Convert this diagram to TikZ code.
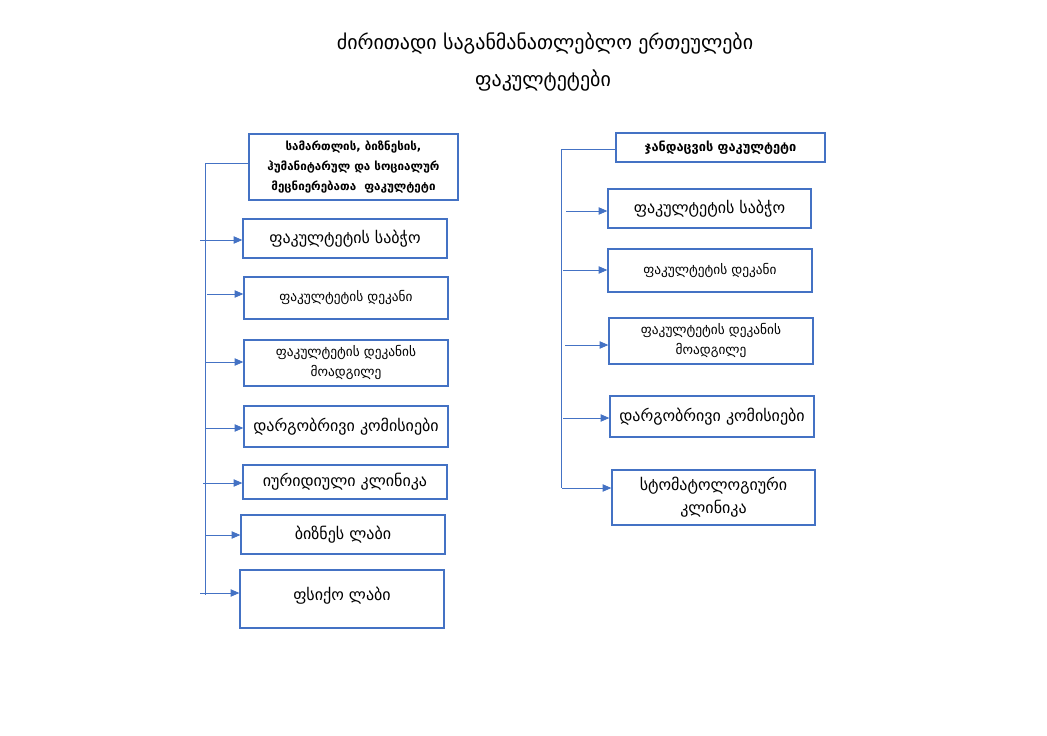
\documentclass[tikz,border=0pt]{standalone}
\usepackage{fontspec}
\setmainfont{DejaVu Sans}
\usetikzlibrary{arrows.meta}
\definecolor{bblue}{HTML}{4472C4}
\begin{document}
\begin{tikzpicture}[x=0.75pt,y=-0.75pt,
  box/.style={draw=bblue,line width=1pt,inner sep=0pt,align=center,font=\fontsize{12}{17.5}\selectfont},
  sbox/.style={box,font=\fontsize{10}{15}\selectfont},
  hbox/.style={box,font=\bfseries\fontsize{8.7}{15}\selectfont},
  conn/.style={draw=bblue,line width=0.6pt},
  arr/.style={conn,-{Triangle[length=6.5pt,width=5.5pt]}},
  ttl/.style={inner sep=0pt,font=\fontsize{15}{18}\selectfont}]
\useasboundingbox (0,0) rectangle (1047,736);
\node[ttl] (t1) at (545,43) {ძირითადი საგანმანათლებლო ერთეულები};
\node[ttl] (t2) at (543,80) {ფაკულტეტები};
% left column
\node[hbox,minimum width=209*0.75pt,minimum height=66*0.75pt] (lh) at (353.5,167) {სამართლის, ბიზნესის,\\ჰუმანიტარულ და სოციალურ\\მეცნიერებათა\ \ ფაკულტეტი};
\node[box,minimum width=204*0.75pt,minimum height=39*0.75pt] (l1) at (345,238.5) {ფაკულტეტის საბჭო};
\node[sbox,minimum width=204*0.75pt,minimum height=42*0.75pt] (l2) at (346,298) {ფაკულტეტის დეკანი};
\node[sbox,minimum width=204*0.75pt,minimum height=46*0.75pt] (l3) at (346,363) {ფაკულტეტის დეკანის\\მოადგილე};
\node[box,minimum width=204*0.75pt,minimum height=41*0.75pt] (l4) at (346,426.5) {დარგობრივი კომისიები};
\node[box,minimum width=204*0.75pt,minimum height=34*0.75pt] (l5) at (345,482) {იურიდიული კლინიკა};
\node[box,minimum width=204*0.75pt,minimum height=39*0.75pt] (l6) at (343,534.5) {ბიზნეს ლაბი};
\node[box,minimum width=204*0.75pt,minimum height=58*0.75pt,text depth=8pt] (l7) at (342,599) {ფსიქო ლაბი};
\coordinate (lc) at (205,163);
\coordinate (lb) at (205,595);
\draw[conn] (lh.west |- lc) -- (lc) -- (lb);
\coordinate (a1) at (200,240);
\coordinate (a2) at (207,294);
\coordinate (a3) at (205,362);
\coordinate (a4) at (205,428);
\coordinate (a5) at (203,483);
\coordinate (a6) at (205,535);
\coordinate (a7) at (200,593);
\foreach \i in {1,...,7}{\draw[arr] (a\i) -- (a\i -| l\i.west);}
% right column
\node[hbox,font=\bfseries\fontsize{9.6}{15}\selectfont,minimum width=209*0.75pt,minimum height=29*0.75pt] (rh) at (720.5,147.5) {ჯანდაცვის ფაკულტეტი};
\node[box,minimum width=203*0.75pt,minimum height=39*0.75pt] (r1) at (709.5,208.5) {ფაკულტეტის საბჭო};
\node[sbox,minimum width=204*0.75pt,minimum height=43*0.75pt] (r2) at (710,270.5) {ფაკულტეტის დეკანი};
\node[sbox,minimum width=204*0.75pt,minimum height=46*0.75pt] (r3) at (711,341) {ფაკულტეტის დეკანის\\მოადგილე};
\node[box,minimum width=204*0.75pt,minimum height=41*0.75pt] (r4) at (712,416.5) {დარგობრივი კომისიები};
\node[box,minimum width=203*0.75pt,minimum height=55*0.75pt] (r5) at (713.5,497.5) {სტომატოლოგიური\\კლინიკა};
\coordinate (rc) at (561,149);
\coordinate (rb) at (561,488);
\draw[conn] (rh.west |- rc) -- (rc) -- (rb);
\coordinate (b1) at (566,211);
\coordinate (b2) at (563,270);
\coordinate (b3) at (565,345);
\coordinate (b4) at (563,418);
\coordinate (b5) at (562,488);
\foreach \i in {1,...,5}{\draw[arr] (b\i) -- (b\i -| r\i.west);}
\end{tikzpicture}
\end{document}
